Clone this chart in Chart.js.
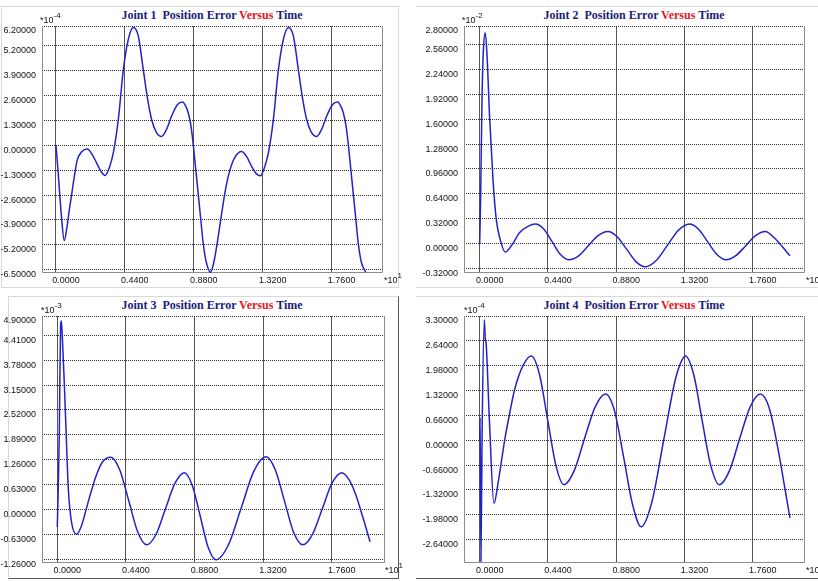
<!DOCTYPE html>
<html>
<head>
<meta charset="utf-8">
<script src="https://cdn.jsdelivr.net/npm/chart.js@4.4.1/dist/chart.umd.min.js"></script>
<style>
  html, body { margin: 0; padding: 0; background: #fff; }
  #page { position: relative; width: 818px; height: 581px; overflow: hidden; background: #fff; }
  .frame { position: absolute; box-sizing: border-box; }
  canvas { position: absolute; }
  .title { position: absolute; font: bold 12px 'Liberation Serif', 'Times New Roman', serif; color: #1c1c7a;
           white-space: nowrap; background: #fff; padding: 0 3px; transform: translateX(-50%); }
  .title span { color: #e8141e; }
  .exp { position: absolute; font: 9px 'Liberation Sans Narrow', 'Liberation Sans', sans-serif; color: #111; white-space: nowrap; }
  .exp sup { font-size: 8px; position: relative; top: -1px; }
</style>
</head>
<body>
<div id="page">
  <div class="frame" style="left:1px;top:6px;width:398px;height:282px;border:1px solid #d9d9d9;"></div>
  <div class="frame" style="left:416px;top:6px;width:410px;height:282px;border:1px solid #d9d9d9;border-left:none;"></div>
  <div class="frame" style="left:8px;top:296px;width:391px;height:283px;border:1px solid #d9d9d9;border-right-color:#555;border-bottom-color:#555;"></div>
  <div class="frame" style="left:416px;top:296px;width:410px;height:283px;border:1px solid #d9d9d9;border-left:none;border-bottom-color:#555;"></div>

  <canvas id="c1" width="400" height="290" style="left:0;top:0"></canvas>
  <canvas id="c2" width="410" height="290" style="left:408px;top:0"></canvas>
  <canvas id="c3" width="400" height="291" style="left:0;top:290px"></canvas>
  <canvas id="c4" width="410" height="291" style="left:408px;top:290px"></canvas>

  <div class="title" style="left:212px;top:8px">Joint 1&nbsp; Position Error <span>Versus</span> Time</div>
  <div class="title" style="left:634px;top:8px">Joint 2&nbsp; Position Error <span>Versus</span> Time</div>
  <div class="title" style="left:212px;top:298px">Joint 3&nbsp; Position Error <span>Versus</span> Time</div>
  <div class="title" style="left:634px;top:298px">Joint 4&nbsp; Position Error <span>Versus</span> Time</div>

  <div class="exp" style="left:40px;top:12px">*10<sup>-4</sup></div>
  <div class="exp" style="left:462px;top:12px">*10<sup>-2</sup></div>
  <div class="exp" style="left:41px;top:302px">*10<sup>-3</sup></div>
  <div class="exp" style="left:464px;top:302px">*10<sup>-4</sup></div>

  <div class="exp" style="left:384px;top:272px">*10<sup>1</sup></div>
  <div class="exp" style="left:806px;top:272px">*10<sup>1</sup></div>
  <div class="exp" style="left:385px;top:562px">*10<sup>1</sup></div>
  <div class="exp" style="left:806px;top:562px">*10<sup>1</sup></div>
</div>

<script>
// time axis (x10 s) shared by all four plots
const timeTicks = [0, 0.44, 0.88, 1.32, 1.76];

// Joint 1 (x1e-4)
const j1Time = [0, 0.01, 0.021, 0.035, 0.053, 0.07, 0.085, 0.1, 0.118, 0.136, 0.165, 0.2, 0.232, 0.26, 0.29, 0.315,
  0.342, 0.366, 0.398, 0.43, 0.462, 0.494, 0.526, 0.558, 0.585, 0.611, 0.64, 0.675, 0.705, 0.738, 0.775, 0.809,
  0.83, 0.845, 0.862, 0.877, 0.893, 0.909, 0.925, 0.94, 0.96, 0.987, 1.008, 1.026, 1.058, 1.085, 1.111, 1.145,
  1.185, 1.218, 1.249, 1.28, 1.305, 1.332, 1.356, 1.388, 1.42, 1.452, 1.484, 1.516, 1.548, 1.575, 1.601, 1.63,
  1.665, 1.695, 1.728, 1.765, 1.799, 1.82, 1.835, 1.852, 1.867, 1.883, 1.899, 1.915, 1.93, 1.95, 1.977];
const j1Err = [0, -1.0, -2.2, -3.7, -4.97, -4.3, -3.4, -2.59, -1.6, -0.77, -0.35, -0.21, -0.5, -0.94, -1.4, -1.58,
  -1.15, -0.42, 1.32, 3.9, 5.5, 6.12, 5.67, 3.9, 2.4, 1.32, 0.68, 0.45, 0.8, 1.5, 2.1, 2.24,
  2.0, 1.67, 1.0, 0, -1.3, -2.59, -3.9, -5.11, -6.1, -6.62, -6.1, -5.29, -3.55, -2.2, -1.29, -0.6,
  -0.33, -0.6, -1.11, -1.5, -1.6, -1.15, -0.42, 1.32, 3.9, 5.5, 6.12, 5.67, 3.9, 2.4, 1.32, 0.68,
  0.45, 0.8, 1.5, 2.1, 2.24, 2.0, 1.67, 1.0, 0, -1.3, -2.59, -3.9, -5.11, -6.1, -6.62];
const j1Ticks = [-6.5, -5.2, -3.9, -2.6, -1.3, 0, 1.3, 2.6, 3.9, 5.2, 6.2];

// Joint 2 (x1e-2)
const j2Time = [0, 0.006, 0.015, 0.024, 0.036, 0.047, 0.064, 0.086, 0.107, 0.135, 0.165, 0.204, 0.258, 0.311,
  0.36, 0.414, 0.468, 0.521, 0.575, 0.638, 0.7, 0.763, 0.826, 0.886, 0.947, 1.007, 1.067, 1.138, 1.21, 1.281,
  1.352, 1.411, 1.47, 1.529, 1.588, 1.651, 1.715, 1.778, 1.841, 1.9, 1.95, 2.0];
const j2Err = [0, 0.57, 1.85, 2.49, 2.71, 2.44, 1.63, 0.82, 0.31, 0.03, -0.11, -0.03, 0.14, 0.22,
  0.25, 0.183, 0.02, -0.143, -0.21, -0.16, -0.03, 0.1, 0.154, 0.087, -0.073, -0.233, -0.3, -0.22, -0.024, 0.171,
  0.252, 0.184, 0.021, -0.142, -0.21, -0.157, -0.028, 0.101, 0.154, 0.07, -0.04, -0.158];
const j2Ticks = [-0.32, 0, 0.32, 0.64, 0.96, 1.28, 1.6, 1.92, 2.24, 2.56, 2.8];

// Joint 3 (x1e-3)
const j3Time = [0, 0.006, 0.013, 0.021, 0.026, 0.034, 0.045, 0.056, 0.071, 0.092, 0.124, 0.155, 0.184, 0.215,
  0.25, 0.29, 0.344, 0.401, 0.459, 0.516, 0.573, 0.634, 0.694, 0.755, 0.815, 0.866, 0.917, 0.967, 1.018,
  1.098, 1.179, 1.259, 1.339, 1.398, 1.457, 1.515, 1.574, 1.637, 1.7, 1.762, 1.825, 1.87, 1.91, 1.96, 2.006];
const j3Err = [-0.45, 0.5, 1.94, 4.64, 4.78, 4.22, 3.2, 2.02, 0.51, -0.34, -0.63, -0.42, -0.02, 0.42,
  0.86, 1.2, 1.32, 0.995, 0.21, -0.575, -0.9, -0.632, 0.015, 0.662, 0.93, 0.606, -0.175, -0.956, -1.28,
  -0.898, 0.025, 0.948, 1.33, 1.003, 0.215, -0.573, -0.9, -0.632, 0.015, 0.662, 0.93, 0.76, 0.42, -0.2, -0.82];
const j3Ticks = [-1.26, -0.63, 0, 0.63, 1.26, 1.89, 2.52, 3.15, 3.78, 4.41, 4.9];

// Joint 4 (x1e-4)
const j4Time = [0, 0.003, 0.008, 0.016, 0.03, 0.036, 0.041, 0.062, 0.092, 0.12, 0.161, 0.195, 0.225, 0.279,
  0.333, 0.386, 0.44, 0.492, 0.543, 0.61, 0.677, 0.744, 0.811, 0.868, 0.928, 0.985, 1.041, 1.11, 1.186, 1.255,
  1.29, 1.326, 1.38, 1.435, 1.49, 1.545, 1.611, 1.677, 1.743, 1.809, 1.867, 1.931, 1.965, 2.0];
const j4Err = [0, 0.6, -3.22, 0.3, 3.2, 2.7, 2.6, 0.6, -1.68, -1.1, 0, 0.75, 1.34, 1.98,
  2.24, 1.74, 0.5, -0.68, -1.18, -0.8, 0.06, 0.88, 1.23, 0.8, -0.45, -1.7, -2.3, -1.64, 0, 1.5,
  2.0, 2.24, 1.74, 0.5, -0.68, -1.18, -0.8, 0.06, 0.88, 1.23, 0.85, -0.41, -1.22, -2.06];
const j4Ticks = [-2.64, -1.98, -1.32, -0.66, 0, 0.66, 1.32, 1.98, 2.64, 3.3];

const tickFont = { family: "'Liberation Sans Narrow', 'Liberation Sans', sans-serif", size: 9 };

// grey frame round the plot area (top edge is the dotted max gridline)
const plotFrame = {
    id: 'plotFrame',
    beforeDatasetsDraw(chart) {
        const { ctx, chartArea: a } = chart;
        ctx.save();
        ctx.strokeStyle = '#8c8c8c';
        ctx.lineWidth = 1;
        ctx.beginPath();
        ctx.moveTo(a.left + 0.5, a.top);
        ctx.lineTo(a.left + 0.5, a.bottom - 0.5);
        ctx.lineTo(a.right - 0.5, a.bottom - 0.5);
        ctx.lineTo(a.right - 0.5, a.top);
        ctx.stroke();
        ctx.restore();
    }
};

function makePanel(id, times, errs, yTicks, yMin, xMin, xMax, yWidth, padRight, padBottom) {
    new Chart(document.getElementById(id), {
        type: 'line',
        data: {
            datasets: [{
                data: times.map((t, i) => ({ x: t, y: errs[i] })),
                borderColor: '#2222cc',
                borderWidth: 1.5,
                pointRadius: 0,
                cubicInterpolationMode: 'monotone',
                fill: false
            }]
        },
        options: {
            responsive: false,
            animation: false,
            events: [],
            layout: { padding: { top: 26, right: padRight, bottom: padBottom, left: 0 } },
            plugins: { legend: { display: false }, tooltip: { enabled: false } },
            scales: {
                x: {
                    type: 'linear',
                    min: xMin,
                    max: xMax,
                    afterBuildTicks: s => { s.ticks = timeTicks.map(v => ({ value: v })); },
                    afterFit: s => { s.height = 14; },
                    ticks: {
                        callback: v => Number(v).toFixed(4),
                        autoSkip: false,
                        maxRotation: 0,
                        labelOffset: 10,
                        padding: 2,
                        font: tickFont,
                        color: '#111'
                    },
                    grid: { color: '#555', lineWidth: 1, drawTicks: false },
                    border: { display: false }
                },
                y: {
                    min: yMin,
                    max: yTicks[yTicks.length - 1],
                    afterBuildTicks: s => { s.ticks = yTicks.map(v => ({ value: v })); },
                    afterFit: s => { s.width = yWidth; },
                    ticks: {
                        callback: v => Number(v).toFixed(5),
                        autoSkip: false,
                        labelOffset: 5,
                        padding: 6,
                        font: tickFont,
                        color: '#111'
                    },
                    grid: { color: '#333', lineWidth: 1, drawTicks: false },
                    border: { display: false, dash: [1, 1] }
                }
            }
        },
        plugins: [plotFrame]
    });
}

makePanel('c1', j1Time, j1Err, j1Ticks, -6.66, -0.089, 2.088, 42, 17, 3);
makePanel('c2', j2Time, j2Err, j2Ticks, -0.38, -0.101, 2.097, 56, 13, 3);
makePanel('c3', j3Time, j3Err, j3Ticks, -1.36, -0.098, 2.102, 42, 15, 4);
makePanel('c4', j4Time, j4Err, j4Ticks, -3.26, -0.101, 2.097, 56, 13, 4);
</script>
</body>
</html>
